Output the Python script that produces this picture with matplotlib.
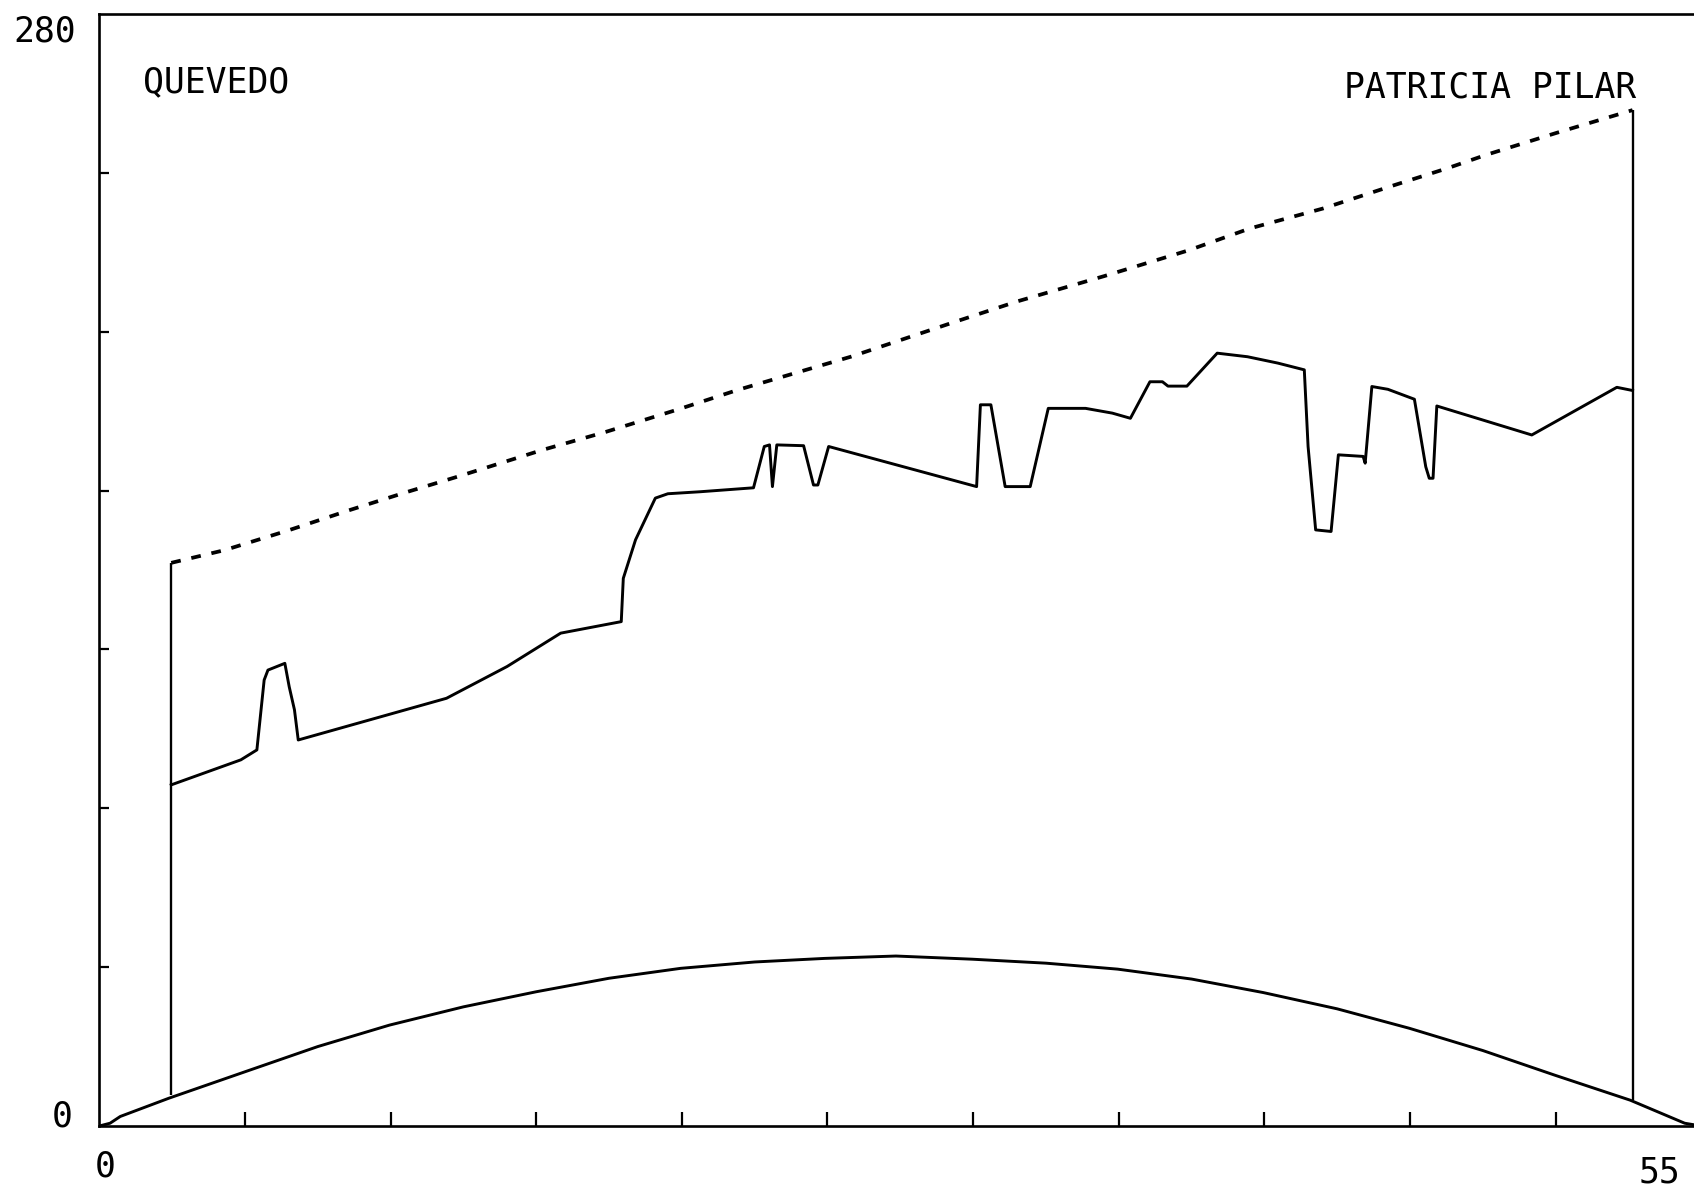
import matplotlib
matplotlib.use("Agg")
import matplotlib.pyplot as plt

# profile between the two stations
station_x = [2.47, 52.64]
station_bottom = [7.8, 6.5]
station_top = [141.8, 255.8]
station_names = ["QUEVEDO", "PATRICIA PILAR"]

# upper dashed line
dash_x = [2.47, 4.3, 6.5, 8.6, 10.5, 12.3, 15.2, 17.4, 19.9, 21.9, 25.8, 29.3,
          31.5, 34.5, 37.4, 39.5, 42.0, 44.5, 46.3, 47.6, 50.0, 52.64]
dash_y = [141.8, 145.0, 150.0, 155.1, 159.5, 163.5, 170.2, 174.8, 180.5, 185.3,
          193.7, 202.3, 207.6, 214.0, 220.5, 226.0, 231.0, 237.0, 241.2, 244.5,
          250.0, 255.8]

# ground profile
ground_x = [2.47, 4.86, 5.41, 5.66, 5.79, 6.37, 6.52, 6.70, 6.83, 11.92, 14.0,
            15.84, 17.92, 17.99, 18.41, 19.09, 19.52, 20.62, 22.46, 22.83, 23.01,
            23.11, 23.26, 24.18, 24.52, 24.67, 25.04, 30.12, 30.25, 30.61, 31.10,
            31.96, 32.58, 33.86, 34.78, 35.40, 36.07, 36.50, 36.69, 37.34, 38.38,
            39.42, 40.46, 41.37, 41.50, 41.76, 42.29, 42.54, 43.39, 43.46, 43.69,
            44.24, 45.15, 45.54, 45.66, 45.79, 45.92, 49.18, 52.10, 52.64]
ground_y = [85.9, 92.2, 94.7, 112.3, 114.8, 116.5, 110.6, 104.8, 97.2, 107.7, 115.7,
            124.1, 127.0, 137.9, 147.6, 158.1, 159.2, 159.7, 160.7, 171.1, 171.5,
            161.0, 171.5, 171.3, 161.4, 161.4, 171.1, 161.0, 181.6, 181.6, 161.0,
            161.0, 180.7, 180.7, 179.5, 178.2, 187.4, 187.4, 186.3, 186.3, 194.6,
            193.7, 192.1, 190.4, 171.1, 150.1, 149.7, 169.0, 168.6, 166.9, 186.2,
            185.5, 183.0, 166.0, 163.1, 163.1, 181.3, 174.0, 186.0, 185.2]

# lower arc
arc_x = [0, 0.37, 0.72, 2.39, 5.02, 7.5, 9.96, 12.5, 15.0, 17.5, 19.96, 22.5,
         24.9, 27.35, 29.97, 32.5, 34.96, 37.5, 39.96, 42.5, 44.98, 47.5, 49.97,
         52.56, 54.43, 55]
arc_y = [0, 0.7, 2.4, 7.0, 13.7, 20.0, 25.4, 30.0, 33.8, 37.2, 39.7, 41.3,
         42.2, 42.8, 42.0, 41.0, 39.5, 37.0, 33.6, 29.5, 24.6, 19.0, 12.8,
         6.5, 0.7, 0]

XMAX, YMAX = 55, 280
FONT = "DejaVu Sans Mono"
LW = 2.1

fig = plt.figure(figsize=(16.94, 11.91), dpi=100)
ax = fig.add_axes([99.3 / 1694, 65 / 1191, 1602 / 1694, 1112 / 1191])
ax.set_xlim(0, XMAX)
ax.set_ylim(0, YMAX)

ax.plot(ground_x, ground_y, color="black", lw=LW)
ax.plot(arc_x, arc_y, color="black", lw=LW)
ax.plot(dash_x, dash_y, color="black", lw=LW + 0.6,
        linestyle=(0, (2.6, 2.9)))
ax.vlines(station_x, station_bottom, station_top, color="black", lw=LW * 0.8)

ax.text(1.5, 262.7, station_names[0], family=FONT, fontsize=25,
        ha="left", va="center")
ax.text(52.78, 261.5, station_names[1], family=FONT, fontsize=25,
        ha="right", va="center")

# axes end labels, placed like the plotter did
for x, y, s in [(-1.86, 275.5, "280"), (-1.28, 2.5, "0"),
                (0.2, -10.3, "0"), (53.57, -11.6, str(XMAX))]:
    ax.text(x, y, s, family=FONT, fontsize=25, ha="center", va="center",
            clip_on=False)

ax.set_xticks(range(5, 51, 5))
ax.set_yticks(range(40, 241, 40))
ax.tick_params(axis="x", direction="in", length=10, width=1.6, labelbottom=False)
ax.tick_params(axis="y", direction="in", length=7, width=1.6, labelleft=False)
for side in ["left", "bottom", "top", "right"]:
    ax.spines[side].set_linewidth(1.9)

fig.savefig("out.png", dpi=100)
